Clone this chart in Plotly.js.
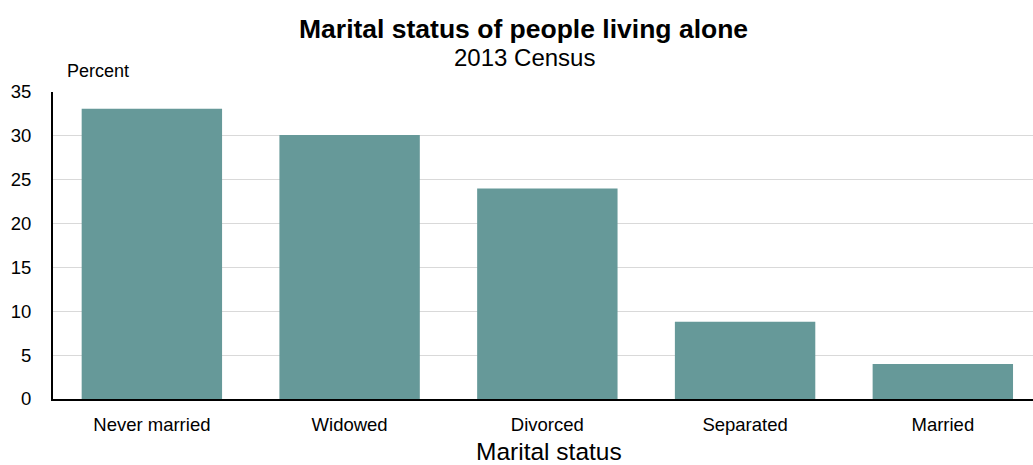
<!DOCTYPE html>
<html>
<head>
<meta charset="utf-8">
<script src="https://cdn.plot.ly/plotly-3.0.1.min.js"></script>
<style>
  html, body { margin: 0; padding: 0; background: #fff; overflow: hidden; }
  #chart { width: 1033px; height: 465px; }
</style>
</head>
<body>
<div id="chart"></div>
<script>
const categories = ['Never married', 'Widowed', 'Divorced', 'Separated', 'Married'];
const percent = [33.1, 30.1, 24.0, 8.8, 4.0];
const yTicks = [0, 5, 10, 15, 20, 25, 30, 35];

const font = 'Arial, "Liberation Sans", sans-serif';

const trace = {
    x: categories,
    y: percent,
    type: 'bar',
    width: 0.71,
    marker: { color: '#669999' },
    hoverinfo: 'x+y'
};

const layout = {
    width: 1033,
    height: 465,
    margin: { l: 53, r: 0, t: 92, b: 66 },
    paper_bgcolor: '#ffffff',
    plot_bgcolor: '#ffffff',
    font: { family: font, color: '#000000', size: 18 },
    showlegend: false,
    xaxis: {
        type: 'category',
        range: [-0.5, 4.456],
        showline: true,
        linecolor: '#000000',
        linewidth: 2,
        ticks: '',
        ticklabelstandoff: 8,
        tickfont: { size: 18.5 },
        showgrid: false,
        zeroline: false
    },
    yaxis: {
        range: [0, 35],
        tickvals: yTicks,
        showline: true,
        linecolor: '#000000',
        linewidth: 2,
        ticks: '',
        ticklabelstandoff: 16,
        tickfont: { size: 18.5 },
        showgrid: true,
        gridcolor: '#d9d9d9',
        gridwidth: 1,
        zeroline: false
    },
    annotations: [
        {
            text: '<b>Marital status of people living alone</b>',
            xref: 'paper', yref: 'paper', x: 0.48, y: 1.205,
            xanchor: 'center', yanchor: 'middle', showarrow: false,
            font: { size: 26.5 }
        },
        {
            text: '2013 Census',
            xref: 'paper', yref: 'paper', x: 0.481, y: 1.113,
            xanchor: 'center', yanchor: 'middle', showarrow: false,
            font: { size: 24 }
        },
        {
            text: 'Percent',
            xref: 'paper', yref: 'paper', x: 0.012, y: 1.068,
            xanchor: 'left', yanchor: 'middle', showarrow: false,
            font: { size: 18 }
        },
        {
            text: 'Marital status',
            xref: 'paper', yref: 'paper', x: 0.506, y: -0.172,
            xanchor: 'center', yanchor: 'middle', showarrow: false,
            font: { size: 24.5 }
        }
    ]
};

Plotly.newPlot('chart', [trace], layout, { displayModeBar: false, staticPlot: true });
</script>
</body>
</html>
